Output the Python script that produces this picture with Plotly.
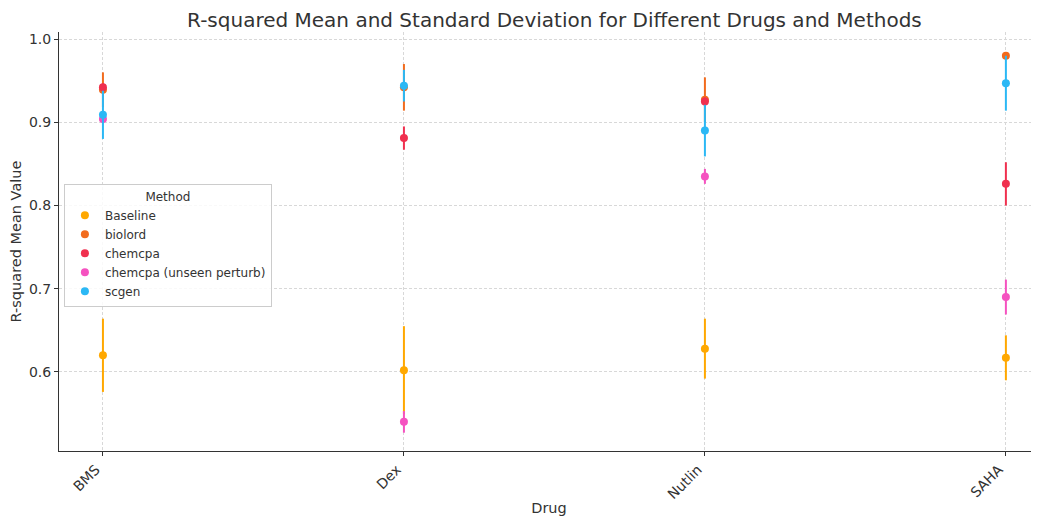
import plotly.graph_objects as go

drugs = ["BMS", "Dex", "Nutlin", "SAHA"]
methods = ["Baseline", "biolord", "chemcpa", "chemcpa (unseen perturb)", "scgen"]
means = {
    "Baseline": [0.620, 0.602, 0.628, 0.617],
    "biolord": [0.939, 0.942, 0.927, 0.980],
    "chemcpa": [0.942, 0.881, 0.925, 0.826],
    "chemcpa (unseen perturb)": [0.904, 0.540, 0.835, 0.690],
    "scgen": [0.909, 0.944, 0.890, 0.947],
}
stds = {
    "Baseline": [0.044, 0.053, 0.036, 0.027],
    "biolord": [0.021, 0.028, 0.027, 0.003],
    "chemcpa": [0.005, 0.014, 0.005, 0.026],
    "chemcpa (unseen perturb)": [0.005, 0.013, 0.009, 0.021],
    "scgen": [0.029, 0.019, 0.031, 0.033],
}
colors = {
    "Baseline": "#FFA800",
    "biolord": "#F26B1D",
    "chemcpa": "#F0304F",
    "chemcpa (unseen perturb)": "#F552C0",
    "scgen": "#2BB8F5",
}

fig = go.Figure()
for m in methods:
    fig.add_trace(go.Scatter(
        x=list(range(len(drugs))), y=means[m], mode="markers", name=m,
        marker=dict(color=colors[m], size=8),
        error_y=dict(type="data", array=stds[m], color=colors[m], thickness=2, width=0),
    ))

fig.update_layout(
    width=1031, height=508,
    margin=dict(l=51, r=0, t=24, b=65, autoexpand=False),
    paper_bgcolor="white", plot_bgcolor="white",
    font=dict(family="DejaVu Sans", color="#333333", size=13),
    title=dict(text="R-squared Mean and Standard Deviation for Different Drugs and Methods",
               x=0.53, xanchor="center", y=0.976, yanchor="middle",
               font=dict(size=20, color="#333333")),
    legend=dict(
        title=dict(text="Method", side="top center", font=dict(size=12)),
        x=0.005, y=0.637, xanchor="left", yanchor="top",
        bgcolor="rgba(255,255,255,0.85)", bordercolor="#cccccc", borderwidth=1,
        font=dict(size=12), tracegroupgap=0, itemwidth=30,
    ),
    showlegend=True,
)
fig.update_xaxes(
    range=[-0.146, 3.11], tickmode="array", tickvals=list(range(len(drugs))), ticktext=drugs,
    tickangle=-45, showline=True, linecolor="#333333", linewidth=1, ticks="outside",
    ticklen=4, tickcolor="#333333", showgrid=True, gridcolor="#d8d8d8", griddash="3px,2px",
    gridwidth=1, zeroline=False, automargin=False, ticklabelshift=-7,
    title=dict(text="Drug", font=dict(size=14.5), standoff=4),
    tickfont=dict(size=14),
)
fig.update_yaxes(
    range=[0.505, 1.0085], tickvals=[0.6, 0.7, 0.8, 0.9, 1.0], tickformat=".1f",
    showline=True, linecolor="#333333", linewidth=1, ticks="outside", ticklen=4,
    tickcolor="#333333", showgrid=True, gridcolor="#d8d8d8", griddash="3px,2px", gridwidth=1,
    zeroline=False, automargin=False,
    title=dict(text="R-squared Mean Value", font=dict(size=14.5), standoff=6),
    tickfont=dict(size=14),
)
fig.write_html("out.html")
